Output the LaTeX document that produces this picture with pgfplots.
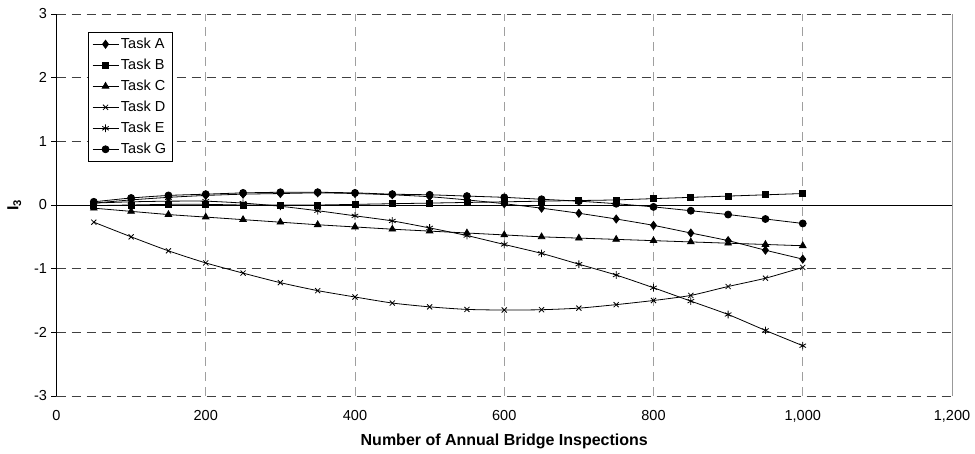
\documentclass[border=0pt]{standalone}
\usepackage{fontspec}
\setmainfont{Liberation Sans}
\usepackage{pgfplots}
\pgfplotsset{compat=1.18}
\begin{document}
\begin{tikzpicture}
\begin{axis}[
  at={(56.5pt,58pt)}, anchor=south west,
  scale only axis, width=895.5pt, height=382pt,
  xmin=0, xmax=1200, ymin=-3, ymax=3,
  xtick={0,200,...,1200}, ytick={-3,-2,...,3},
  /pgf/number format/assume math mode=true,
  /pgf/number format/1000 sep={,},
  tick label style={font=\fontsize{14.5}{16}\selectfont},
  grid=major,
  x grid style={gray!75, dash pattern=on 9pt off 6pt, line width=1pt},
  y grid style={black!75, dash pattern=on 9pt off 6pt, line width=0.7pt},
  axis line style={draw=none},
  xtick style={draw=none},
  ytick style={black, line width=0.6pt},
  ytick pos=left, tick align=outside, major tick length=5pt,
  xticklabel style={yshift=-6pt},
  yticklabel style={xshift=-1pt},
  xlabel={\textbf{Number of Annual Bridge Inspections}},
  xlabel style={font=\fontsize{16}{18}\selectfont, yshift=-5pt},
  ylabel={\textbf{I\textsubscript{3}}},
  ylabel style={font=\fontsize{16}{18}\selectfont, rotate=0, yshift=6pt},
  legend style={at={(0.035,0.953)}, anchor=north west, draw=black, line width=0.6pt,
    font=\fontsize{14.5}{16}\selectfont, row sep=5pt, inner xsep=4pt, inner ysep=4pt},
  legend cell align=left,
  legend image code/.code={\draw[mark repeat=2, mark phase=2, line width=0.8pt, #1] plot coordinates {(0pt,0pt) (13pt,0pt) (26pt,0pt)};},
  every axis plot/.append style={black, line width=0.8pt, smooth, tension=0.4, mark options={solid, scale=1}},
  clip=false,
]
\addplot[mark=diamond*, mark size=4pt] coordinates {(50,0.03)(100,0.08)(150,0.12)(200,0.15)(250,0.17)(300,0.18)(350,0.19)(400,0.18)(450,0.16)(500,0.13)(550,0.08)(600,0.02)(650,-0.05)(700,-0.13)(750,-0.22)(800,-0.32)(850,-0.44)(900,-0.56)(950,-0.71)(1000,-0.85)};
\addlegendentry{Task A}
\addplot[mark=square*, mark size=3pt] coordinates {(50,-0.01)(100,0.0)(150,0.01)(200,0.01)(250,0.0)(300,0.0)(350,0.0)(400,0.01)(450,0.02)(500,0.03)(550,0.04)(600,0.05)(650,0.06)(700,0.07)(750,0.08)(800,0.10)(850,0.12)(900,0.14)(950,0.16)(1000,0.18)};
\addlegendentry{Task B}
\addplot[mark=triangle*, mark size=3.8pt] coordinates {(50,-0.05)(100,-0.10)(150,-0.15)(200,-0.19)(250,-0.23)(300,-0.27)(350,-0.31)(400,-0.345)(450,-0.38)(500,-0.41)(550,-0.44)(600,-0.47)(650,-0.50)(700,-0.52)(750,-0.54)(800,-0.56)(850,-0.58)(900,-0.60)(950,-0.62)(1000,-0.64)};
\addlegendentry{Task C}
\addplot[mark=x, mark size=3.6pt] coordinates {(50,-0.27)(100,-0.50)(150,-0.72)(200,-0.91)(250,-1.07)(300,-1.22)(350,-1.345)(400,-1.445)(450,-1.54)(500,-1.60)(550,-1.64)(600,-1.65)(650,-1.645)(700,-1.62)(750,-1.565)(800,-1.50)(850,-1.42)(900,-1.28)(950,-1.15)(1000,-0.98)};
\addlegendentry{Task D}
\addplot[mark=asterisk, mark size=3.8pt] coordinates {(50,0.03)(100,0.05)(150,0.06)(200,0.06)(250,0.03)(300,-0.02)(350,-0.09)(400,-0.17)(450,-0.25)(500,-0.36)(550,-0.48)(600,-0.62)(650,-0.76)(700,-0.93)(750,-1.10)(800,-1.30)(850,-1.51)(900,-1.72)(950,-1.97)(1000,-2.21)};
\addlegendentry{Task E}
\addplot[mark=*, mark size=3.5pt] coordinates {(50,0.05)(100,0.11)(150,0.15)(200,0.17)(250,0.19)(300,0.20)(350,0.20)(400,0.19)(450,0.17)(500,0.16)(550,0.14)(600,0.12)(650,0.09)(700,0.06)(750,0.02)(800,-0.03)(850,-0.09)(900,-0.15)(950,-0.22)(1000,-0.29)};
\addlegendentry{Task G}
\draw[black, line width=0.8pt] (axis cs:0,-3) -- (axis cs:0,3);
\draw[black, line width=0.8pt] (axis cs:0,0) -- (axis cs:1200,0);
\draw[gray!80, line width=1pt] (axis cs:1200,-3) -- (axis cs:1200,3);
\end{axis}
\pgfresetboundingbox
\path (0,0) rectangle (975pt,454pt);
\end{tikzpicture}
\end{document}
